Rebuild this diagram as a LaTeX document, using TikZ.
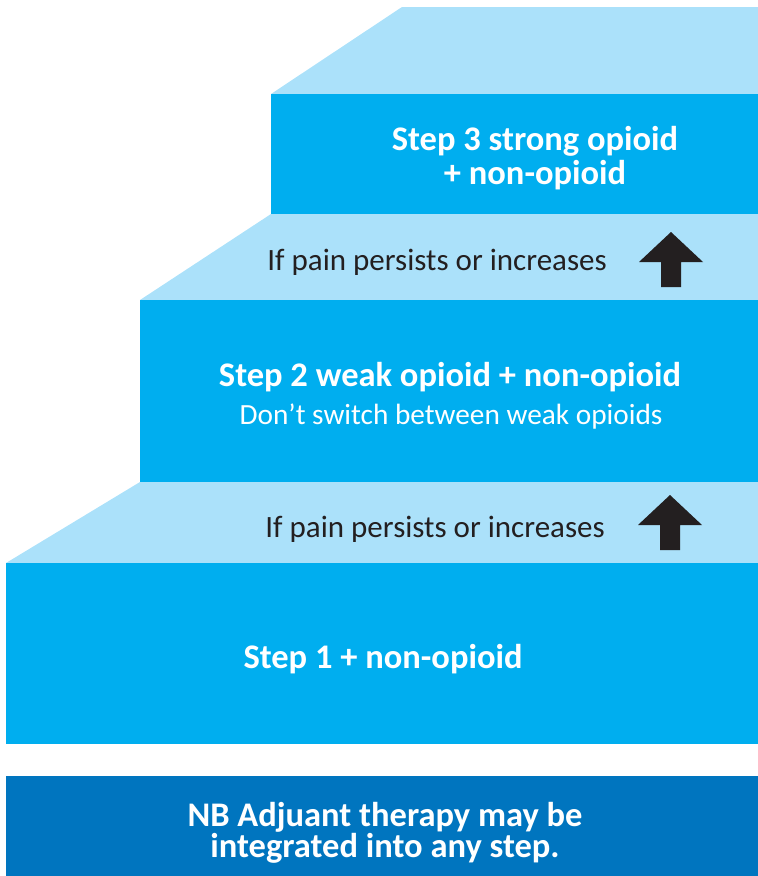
\documentclass[tikz,border=0pt]{standalone}
\usepackage{fontspec}
\setmainfont{Carlito}
\usetikzlibrary{positioning}
\definecolor{stepblue}{HTML}{00AEEF}
\definecolor{stepsky}{HTML}{ABE1FA}
\definecolor{nbblue}{HTML}{0075BF}
\definecolor{inkgray}{HTML}{231F20}

\begin{document}
\begin{tikzpicture}[x=1pt, y=-1pt,
  stepbox/.style={fill=stepblue, draw=none, anchor=north west, inner sep=0, minimum width=#1},
  tread/.style={fill=stepsky, draw=none},
  nbbox/.style={fill=nbblue, draw=none, anchor=north west, inner sep=0, minimum width=752pt, minimum height=100pt},
  title/.style={text=white, font=\fontsize{34.5}{34}\selectfont\bfseries, align=center, inner sep=0},
  subtitle/.style={text=white, font=\fontsize{29.3}{34}\selectfont, inner sep=0},
  persist/.style={text=inkgray, font=\fontsize{31}{34}\selectfont, anchor=east, inner sep=0},
  uparrow/.style={fill=inkgray, draw=none}
]
\useasboundingbox (0,0) rectangle (758,876);

% treads
\fill[tread] (402,7) -- (758,7) -- (758,94) -- (271,94) -- cycle;
\fill[tread] (271,214) -- (758,214) -- (758,300) -- (140,300) -- cycle;
\fill[tread] (140,482) -- (758,482) -- (758,563) -- (6,563) -- cycle;

% risers
\node[stepbox=487pt, minimum height=120pt] (step3) at (271,94) {};
\node[stepbox=618pt, minimum height=182pt] (step2) at (140,300) {};
\node[stepbox=752pt, minimum height=181pt] (step1) at (6,563) {};
\node[nbbox] (nb) at (6,776) {};

% texts
\node[title] (s3text) at (535,158) {Step 3 strong opioid\\+ non-opioid};
\node[title] (s2text) at (450,377) {Step 2 weak opioid + non-opioid};
\node[subtitle] (s2note) at (451,417) {Don’t switch between weak opioids};
\node[title] (s1text) at (383,659) {Step 1 + non-opioid};
\node[title, font=\fontsize{34.5}{31}\selectfont\bfseries] (nbtext) at (385,833) {NB Adjuant therapy may be\\integrated into any step.};
\node[persist] (up2text) at (607,262) {If pain persists or increases};
\node[persist] (up1text) at (605,529) {If pain persists or increases};

% arrows
\foreach \tx/\ty in {671/232, 670/495}{
  \fill[uparrow] (\tx,\ty) -- ++(32,30) -- ++(-22,0) -- ++(0,25) -- ++(-20,0)
    -- ++(0,-25) -- ++(-22,0) -- cycle;
}
\end{tikzpicture}
\end{document}
